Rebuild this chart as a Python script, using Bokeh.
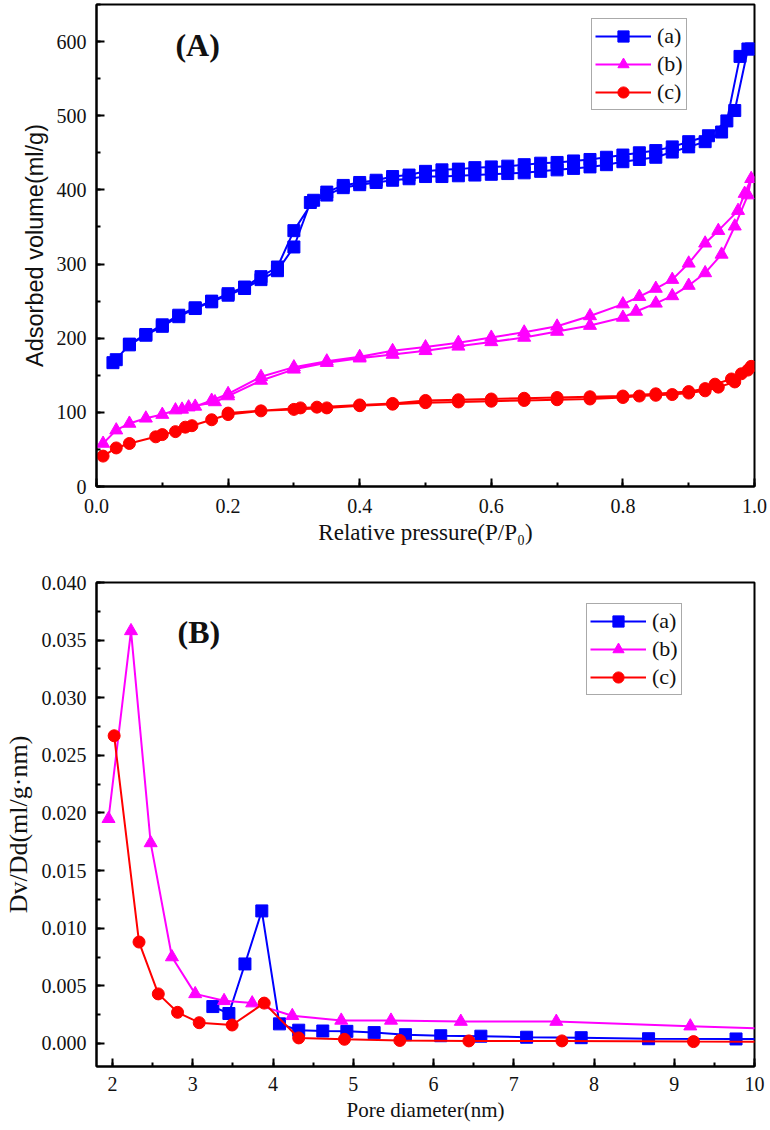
from bokeh.plotting import figure
from bokeh.layouts import column
from bokeh.models import SingleIntervalTicker, NumeralTickFormatter, Range1d, Label
from bokeh.embed import file_html
from bokeh.resources import INLINE

SERIF = "Liberation Serif"
SANS = "Liberation Sans"
BLUE, MAGENTA, RED = "#0000FF", "#FF00FF", "#FF0000"

# ---------------- Panel A: isotherms (adsorption + desorption branches) -------------
a_ads_x = [0.025, 0.05, 0.075, 0.10, 0.125, 0.15, 0.175, 0.20, 0.225, 0.25, 0.275, 0.30, 0.325, 0.35,
           0.375, 0.40, 0.425, 0.45, 0.475, 0.50, 0.525, 0.55, 0.575, 0.60, 0.625, 0.65, 0.675, 0.70,
           0.725, 0.75, 0.775, 0.80, 0.825, 0.85, 0.875, 0.90, 0.925, 0.95, 0.97, 0.99]
a_ads_y = [167, 191, 204, 216, 229, 240, 249, 258, 267, 279, 291, 323, 383, 393,
           403, 407, 410, 413, 415, 418, 418, 419, 420, 421, 422, 423, 425, 427,
           429, 431, 434, 438, 441, 444, 451, 458, 465, 478, 507, 590]
a_des_x = [0.995, 0.978, 0.958, 0.93, 0.90, 0.875, 0.85, 0.825, 0.80, 0.775, 0.75, 0.725, 0.70, 0.675,
           0.65, 0.625, 0.60, 0.575, 0.55, 0.525, 0.50, 0.475, 0.45, 0.425, 0.40, 0.375, 0.35, 0.33,
           0.30, 0.275, 0.25, 0.225, 0.20, 0.175, 0.15, 0.125, 0.10, 0.075, 0.05, 0.03]
a_des_y = [590, 580, 493, 473, 465, 458, 453, 450, 447, 444, 441, 439, 437, 436,
           434, 432, 431, 430, 428, 427, 425, 420, 418, 413, 410, 406, 397, 386,
           345, 296, 283, 269, 260, 250, 241, 231, 218, 205, 192, 171]

b_ads_x = [0.01, 0.03, 0.05, 0.075, 0.10, 0.12, 0.14, 0.18, 0.20, 0.25, 0.30, 0.35, 0.40, 0.45, 0.50,
           0.55, 0.60, 0.65, 0.70, 0.75, 0.80, 0.82, 0.85, 0.875, 0.90, 0.925, 0.95, 0.97, 0.99]
b_ads_y = [58, 76, 85, 92, 97, 103, 107, 114, 122, 143, 158, 167, 173, 178, 183,
           189, 195, 201, 209, 217, 228, 236, 247, 257, 271, 288, 313, 351, 393]
b_des_x = [0.995, 0.985, 0.975, 0.945, 0.925, 0.90, 0.875, 0.85, 0.825, 0.80, 0.75, 0.70, 0.65,
           0.60, 0.55, 0.50, 0.45, 0.40, 0.35, 0.30, 0.25, 0.20, 0.175, 0.15, 0.13]
b_des_y = [415, 395, 372, 345, 328, 301, 279, 267, 256, 246, 230, 216, 208,
           201, 194, 188, 183, 175, 169, 161, 148, 125, 116, 108, 104]

c_ads_x = [0.01, 0.03, 0.05, 0.09, 0.10, 0.12, 0.135, 0.145, 0.175, 0.20, 0.25, 0.30, 0.35, 0.40,
           0.45, 0.50, 0.55, 0.60, 0.65, 0.70, 0.75, 0.80, 0.825, 0.85, 0.875, 0.90, 0.925, 0.945,
           0.97, 0.99]
c_ads_y = [41, 52, 58, 67, 70, 74, 80, 82, 90, 97, 102, 104, 106, 109,
           111, 113, 114, 115, 116, 117, 118, 120, 122, 123, 124, 126, 129, 134,
           141, 157]
c_des_x = [0.995, 0.98, 0.965, 0.94, 0.925, 0.90, 0.85, 0.80, 0.75, 0.70, 0.65, 0.60, 0.55, 0.50,
           0.45, 0.40, 0.335, 0.31, 0.20]
c_des_y = [162, 152, 145, 138, 132, 128, 125, 122, 121, 120, 119, 118, 117, 116,
           112, 110, 107, 106, 99]

# ---------------- Panel B: pore size distribution -------------
pa_x = [3.25, 3.45, 3.65, 3.86, 4.08, 4.32, 4.62, 4.92, 5.26, 5.65, 6.09, 6.59, 7.16, 7.84, 8.68, 9.77, 11.0]
pa_y = [0.0032, 0.0026, 0.0069, 0.0115, 0.0017, 0.00115, 0.00108, 0.00105, 0.00094, 0.00076, 0.00067,
        0.00063, 0.00054, 0.00050, 0.00041, 0.00039, 0.00033]
pb_x = [1.95, 2.23, 2.475, 2.74, 3.03, 3.39, 3.74, 4.24, 4.85, 5.47, 6.34, 7.53, 9.20, 11.0]
pb_y = [0.0195, 0.0358, 0.0174, 0.0075, 0.0043, 0.0037, 0.0035, 0.0024, 0.0020, 0.0020, 0.0019,
        0.0019, 0.0015, 0.0011]
pc_x = [2.02, 2.33, 2.57, 2.81, 3.08, 3.49, 3.89, 4.32, 4.89, 5.58, 6.44, 7.60, 9.24, 11.0]
pc_y = [0.0267, 0.0088, 0.0043, 0.0027, 0.0018, 0.0016, 0.0035, 0.00048, 0.00036, 0.00026, 0.00022,
        0.00022, 0.00016, 0.00012]

x_label_a = "Relative pressure(P/P\u2080)"
y_label_a = "Adsorbed volume(ml/g)"
x_label_b = "Pore diameter(nm)"
y_label_b = "Dv/Dd(ml/g\u00b7nm)"
series_names = ["(a)", "(b)", "(c)"]


def style(p, xint, yint, xfmt, yfmt, xlab_size, ylab_font, ylab_size, x_standoff):
    p.outline_line_color = "black"
    p.outline_line_width = 2
    p.xgrid.visible = False
    p.ygrid.visible = False
    p.xaxis.ticker = SingleIntervalTicker(interval=xint, num_minor_ticks=2)
    p.yaxis.ticker = SingleIntervalTicker(interval=yint, num_minor_ticks=2)
    p.xaxis.formatter = NumeralTickFormatter(format=xfmt)
    p.yaxis.formatter = NumeralTickFormatter(format=yfmt)
    for axs in (p.xaxis, p.yaxis):
        axs.axis_line_width = 2
        axs.axis_line_color = "black"
        axs.major_tick_in = 8
        axs.major_tick_out = 0
        axs.minor_tick_in = 4
        axs.minor_tick_out = 0
        axs.major_tick_line_width = 2
        axs.minor_tick_line_width = 2
        axs.major_label_text_font = SERIF
        axs.major_label_text_font_size = "20px"
        axs.major_label_text_color = "#111111"
        axs.axis_label_text_font_style = "normal"
        axs.axis_label_text_color = "#111111"
    p.xaxis.axis_label_text_font = SERIF
    p.xaxis.axis_label_text_font_size = xlab_size
    p.yaxis.axis_label_text_font = ylab_font
    p.yaxis.axis_label_text_font_size = ylab_size
    p.xaxis.major_label_standoff = x_standoff
    p.yaxis.major_label_standoff = 10
    p.xaxis.axis_label_standoff = 4
    p.yaxis.axis_label_standoff = 6


def style_legend(p, loc):
    lg = p.legend[0]
    lg.location = loc
    lg.border_line_color = "#555555"
    lg.border_line_width = 1
    lg.background_fill_alpha = 1
    lg.label_text_font = SERIF
    lg.label_text_font_size = "22px"
    lg.label_text_color = "#111111"
    lg.glyph_width = 56
    lg.glyph_height = 28
    lg.label_height = 28
    lg.label_standoff = 6
    lg.spacing = 0
    lg.padding = 3
    lg.margin = 0


# ---------- figure A ----------
pA = figure(width=768, height=560, output_backend="svg", toolbar_location=None,
            x_range=Range1d(0, 1.0), y_range=Range1d(0, 650),
            min_border_left=96, min_border_right=14, min_border_top=4, min_border_bottom=74,
            x_axis_label=x_label_a, y_axis_label=y_label_a)
style(pA, 0.2, 100, "0.0", "0", "23px", SANS, "23.5px", 12)

for (ax_, ay_, dx_, dy_, col, mk, name) in [
        (a_ads_x, a_ads_y, a_des_x, a_des_y, BLUE, "square", series_names[0]),
        (b_ads_x, b_ads_y, b_des_x, b_des_y, MAGENTA, "triangle", series_names[1]),
        (c_ads_x, c_ads_y, c_des_x, c_des_y, RED, "circle", series_names[2])]:
    xs = ax_ + dx_
    ys = ay_ + dy_
    pA.line(xs, ys, line_color=col, line_width=2, legend_label=name)
    pA.scatter(xs, ys, marker=mk, size=13 if mk == "triangle" else 12,
               fill_color=col, line_color=col, legend_label=name)

pA.add_layout(Label(x=0.12, y=596, text="(A)", text_font=SERIF, text_font_style="bold",
                    text_font_size="32px", text_baseline="middle", text_color="#111111"))
style_legend(pA, (495, 376))

# ---------- figure B ----------
pB = figure(width=768, height=568, output_backend="svg", toolbar_location=None,
            x_range=Range1d(1.8, 10.0), y_range=Range1d(-0.002, 0.040),
            min_border_left=93, min_border_right=13, min_border_top=22, min_border_bottom=62,
            x_axis_label=x_label_b, y_axis_label=y_label_b)
style(pB, 1, 0.005, "0", "0.000", "21px", SERIF, "26px", 10)

for (xs, ys, col, mk, name) in [(pa_x, pa_y, BLUE, "square", series_names[0]),
                                (pb_x, pb_y, MAGENTA, "triangle", series_names[1]),
                                (pc_x, pc_y, RED, "circle", series_names[2])]:
    pB.line(xs, ys, line_color=col, line_width=2, legend_label=name)
    pB.scatter(xs, ys, marker=mk, size=13 if mk == "triangle" else 12,
               fill_color=col, line_color=col, legend_label=name)

pB.add_layout(Label(x=2.81, y=0.0357, text="(B)", text_font=SERIF, text_font_style="bold",
                    text_font_size="32px", text_baseline="middle", text_color="#111111"))
style_legend(pB, (490, 371))

layout = column(pA, pB, spacing=0)
open("out.html", "w").write(file_html(layout, INLINE))
